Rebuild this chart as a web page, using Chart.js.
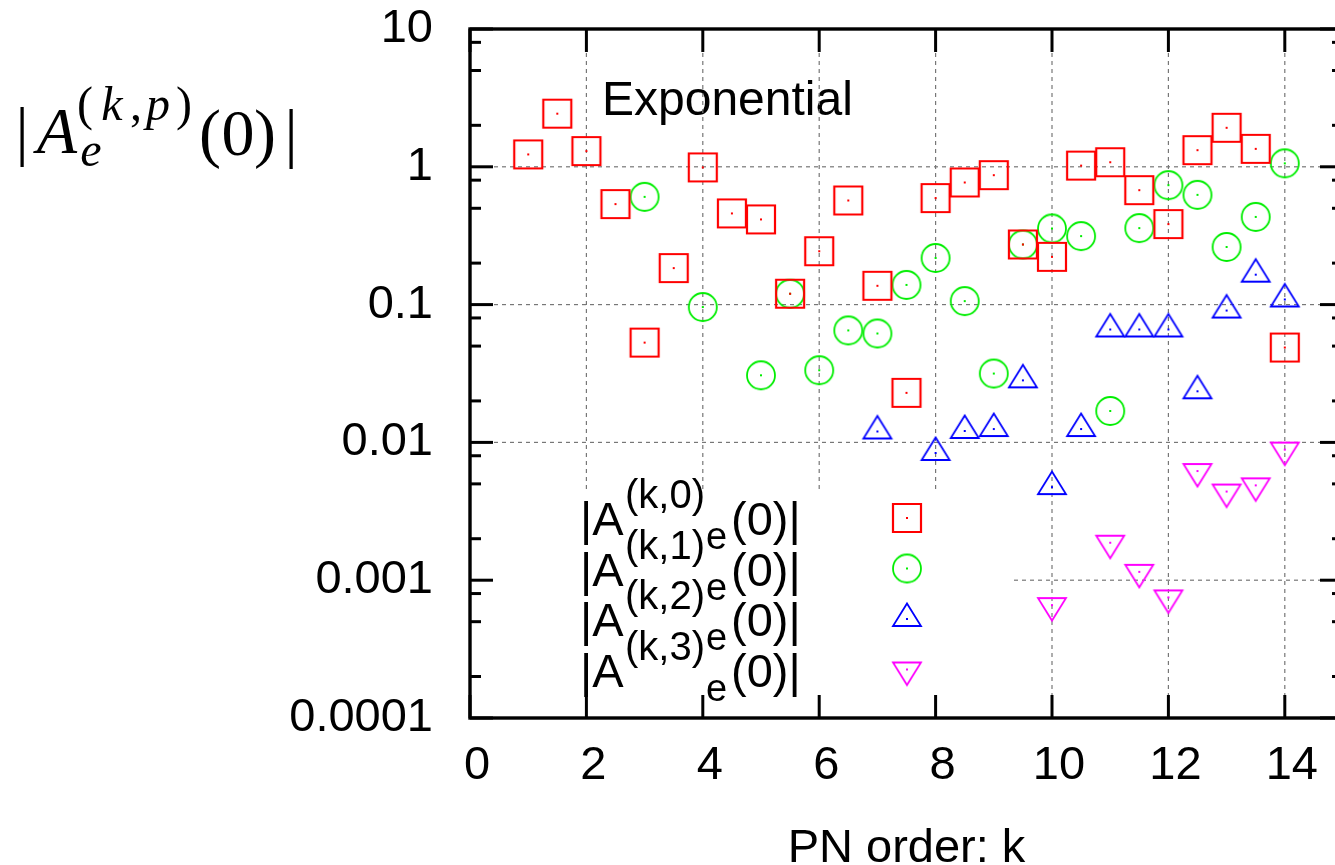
<!DOCTYPE html>
<html>
<head>
<meta charset="utf-8">
<title>|A_e^(k,p)(0)| vs PN order</title>
<script src="https://cdn.jsdelivr.net/npm/chart.js@4.4.1/dist/chart.umd.min.js"></script>
<style>
  html, body { margin: 0; padding: 0; background: #fff; overflow: hidden; }
  #wrap { width: 1360px; height: 865px; }
</style>
</head>
<body>
<div id="wrap"><canvas id="ampChart" width="1360" height="865"></canvas></div>
<script>
// PN order k and |A_e^(k,p)(0)| for p = 0..3 (log axis, zero values left out)
const kP0 = [1, 1.5, 2, 2.5, 3, 3.5, 4, 4.5, 5, 5.5, 6, 6.5, 7, 7.5, 8, 8.5, 9, 9.5, 10, 10.5, 11, 11.5, 12, 12.5, 13, 13.5, 14];
const ampP0 = [1.23, 2.43, 1.30, 0.536, 0.053, 0.184, 0.99, 0.459, 0.415, 0.12, 0.244, 0.570, 0.137, 0.0229, 0.593, 0.77, 0.87, 0.273, 0.222, 1.02, 1.08, 0.677, 0.384, 1.32, 1.92, 1.35, 0.0488];

const kP1 = [3, 4, 5, 5.5, 6, 6.5, 7, 7.5, 8, 8.5, 9, 9.5, 10, 10.5, 11, 11.5, 12, 12.5, 13, 13.5, 14];
const ampP1 = [0.605, 0.096, 0.0307, 0.12, 0.0334, 0.065, 0.0617, 0.139, 0.218, 0.106, 0.0316, 0.273, 0.357, 0.314, 0.0169, 0.359, 0.736, 0.626, 0.262, 0.433, 1.06];

const kP2 = [7, 8, 8.5, 9, 9.5, 10, 10.5, 11, 11.5, 12, 12.5, 13, 13.5, 14];
const ampP2 = [0.012, 0.00838, 0.0121, 0.0125, 0.0282, 0.00474, 0.0125, 0.066, 0.066, 0.066, 0.0235, 0.0906, 0.165, 0.109];

const kP3 = [10, 11, 11.5, 12, 12.5, 13, 13.5, 14];
const ampP3 = [0.00066, 0.00187, 0.00115, 0.00075, 0.0062, 0.0044, 0.00488, 0.00887];

const xTicks = [0, 2, 4, 6, 8, 10, 12, 14];
const yTicks = [0.0001, 0.001, 0.01, 0.1, 1, 10];
const yTickLabels = ['0.0001', '0.001', '0.01', '0.1', '1', '10'];
const yMinorSteps = [2, 5, 8];

const SANS = '"Liberation Sans", Arial, sans-serif';
const SERIF = '"Liberation Serif", "Times New Roman", serif';

// gnuplot-style open markers with a dot in the middle
function makeMarker(shape, color) {
    const c = document.createElement('canvas');
    c.width = 40;
    c.height = 40;
    const g = c.getContext('2d');
    g.strokeStyle = color;
    g.fillStyle = color;
    g.lineWidth = shape === 'square' ? 2.2 : 1.8;
    g.beginPath();
    if (shape === 'square') {
        g.rect(6, 6, 28, 28);
    } else if (shape === 'circle') {
        g.arc(20, 20, 14, 0, Math.PI * 2);
    } else if (shape === 'up') {
        g.moveTo(20, 4.5); g.lineTo(34, 27); g.lineTo(6, 27); g.closePath();
    } else {
        g.moveTo(20, 35.5); g.lineTo(34, 13); g.lineTo(6, 13); g.closePath();
    }
    g.stroke();
    g.fillRect(19, 19, 2, 2);
    return c;
}

const series = [
    { p: 0, k: kP0, v: ampP0, marker: makeMarker('square', '#ff0000') },
    { p: 1, k: kP1, v: ampP1, marker: makeMarker('circle', '#00ee00') },
    { p: 2, k: kP2, v: ampP2, marker: makeMarker('up', '#0000ff') },
    { p: 3, k: kP3, v: ampP3, marker: makeMarker('down', '#ff00ff') }
];

function line(ctx, x1, y1, x2, y2) {
    ctx.beginPath();
    ctx.moveTo(x1, y1);
    ctx.lineTo(x2, y2);
    ctx.stroke();
}

// draw a run of glyphs centred on the given x positions
function glyphs(ctx, parts, y) {
    ctx.textAlign = 'center';
    parts.forEach(([text, font, cx]) => {
        ctx.font = font;
        ctx.fillText(text, cx, y);
    });
    ctx.textAlign = 'left';
}

// grid, key background, border, tick marks and the extra text
const framePlugin = {
    id: 'gnuFrame',
    beforeDatasetsDraw(chart) {
        const { ctx, chartArea: a, scales: { x, y } } = chart;
        ctx.save();

        ctx.fillStyle = '#000';
        ctx.font = '48px ' + SANS;
        ctx.textAlign = 'left';
        ctx.textBaseline = 'alphabetic';
        ctx.fillText('Exponential', 602, 115);

        // dashed grid
        ctx.strokeStyle = '#777';
        ctx.lineWidth = 1.2;
        ctx.setLineDash([4, 4]);
        xTicks.forEach(v => {
            if (v <= x.min) return;
            const px = x.getPixelForValue(v);
            line(ctx, px, a.top, px, a.bottom);
        });
        yTicks.forEach(v => {
            if (v <= y.min || v >= y.max) return;
            const py = y.getPixelForValue(v);
            line(ctx, a.left, py, a.right, py);
        });
        ctx.setLineDash([]);

        // opaque key box
        ctx.fillStyle = '#fff';
        ctx.fillRect(a.left + 2, 490, 1008 - a.left, a.bottom - 492);

        // tick marks on all four sides
        ctx.strokeStyle = '#000';
        ctx.lineWidth = 3;
        const major = 23, minor = 11;
        xTicks.forEach(v => {
            const px = x.getPixelForValue(v);
            line(ctx, px, a.bottom, px, a.bottom - major);
            line(ctx, px, a.top, px, a.top + major);
        });
        yTicks.forEach((v, i) => {
            const py = y.getPixelForValue(v);
            line(ctx, a.left, py, a.left + major, py);
            line(ctx, a.right, py, a.right - major, py);
            if (i === yTicks.length - 1) return;
            yMinorSteps.forEach(f => {
                const pm = y.getPixelForValue(v * f);
                line(ctx, a.left, pm, a.left + minor, pm);
                line(ctx, a.right, pm, a.right - minor, pm);
            });
        });

        ctx.lineWidth = 3.4;
        ctx.strokeRect(a.left, a.top, a.right - a.left, a.bottom - a.top);
        ctx.restore();
    },
    afterDatasetsDraw(chart) {
        const { ctx, chartArea: a } = chart;
        ctx.save();
        ctx.fillStyle = '#000';
        ctx.textAlign = 'left';
        ctx.textBaseline = 'alphabetic';

        // key: |A^(k,p)_e(0)| with its marker
        series.forEach(s => {
            const yb = 535 + 50.5 * s.p;
            ctx.font = '47px ' + SANS;
            ctx.fillText('|A', 580, yb);
            ctx.font = '40px ' + SANS;
            ctx.fillText('(k,' + s.p + ')', 625, yb - 27);
            ctx.font = '38px ' + SANS;
            ctx.fillText('e', 706, yb + 14);
            ctx.font = '47px ' + SANS;
            ctx.fillText('(0)|', 731, yb);
            ctx.drawImage(s.marker, 907 - 20, yb - 17 - 20);
        });

        // x axis title
        ctx.font = '47px ' + SANS;
        ctx.textAlign = 'center';
        ctx.fillText('PN order: k', (a.left + a.right) / 2, 862);
        ctx.textAlign = 'left';

        // y axis title |A_e^(k,p)(0)|
        const big = '66px ' + SERIF, bigIt = 'italic 66px ' + SERIF;
        const sm = '48px ' + SERIF, smIt = 'italic 48px ' + SERIF;
        glyphs(ctx, [['|', big, 22], ['A', bigIt, 57]], 153);
        glyphs(ctx, [['(', sm, 85], ['k', smIt, 112], [',', sm, 136], ['p', smIt, 158], [')', sm, 184]], 120);
        glyphs(ctx, [['e', smIt, 91]], 166);
        glyphs(ctx, [['(', big, 210], ['0', big, 238], [')', big, 265], ['|', big, 291]], 155);
        ctx.restore();
    }
};

const ctx = document.getElementById('ampChart').getContext('2d');

new Chart(ctx, {
    type: 'scatter',
    data: {
        datasets: series.map(s => ({
            label: 'p=' + s.p,
            data: s.k.map((k, i) => ({ x: k, y: s.v[i] })),
            pointStyle: s.marker,
            pointRadius: 15,
            showLine: false
        }))
    },
    options: {
        responsive: false,
        animation: false,
        devicePixelRatio: 1,
        layout: { padding: { top: 29, right: 17, left: 0, bottom: 0 } },
        plugins: {
            legend: { display: false },
            tooltip: { enabled: false }
        },
        scales: {
            x: {
                type: 'linear',
                min: 0,
                max: 15,
                grid: { display: false, drawTicks: false },
                border: { display: false },
                afterBuildTicks: scale => { scale.ticks = xTicks.map(v => ({ value: v })); },
                afterFit: scale => {
                    scale.height = 147;
                    scale.paddingLeft = 0;
                    scale.paddingRight = 0;
                },
                ticks: {
                    font: { family: SANS, size: 47 },
                    color: '#000',
                    padding: 20,
                    labelOffset: 7,
                    maxRotation: 0,
                    autoSkip: false
                }
            },
            y: {
                type: 'logarithmic',
                min: 0.0001,
                max: 10,
                grid: { display: false, drawTicks: false },
                border: { display: false },
                afterBuildTicks: scale => { scale.ticks = yTicks.map(v => ({ value: v })); },
                afterFit: scale => {
                    scale.width = 470;
                    scale.paddingTop = 0;
                    scale.paddingBottom = 0;
                },
                ticks: {
                    font: { family: SANS, size: 47 },
                    color: '#000',
                    padding: 37,
                    autoSkip: false,
                    callback: (value, index) => yTickLabels[index]
                }
            }
        }
    },
    plugins: [framePlugin]
});
</script>
</body>
</html>
